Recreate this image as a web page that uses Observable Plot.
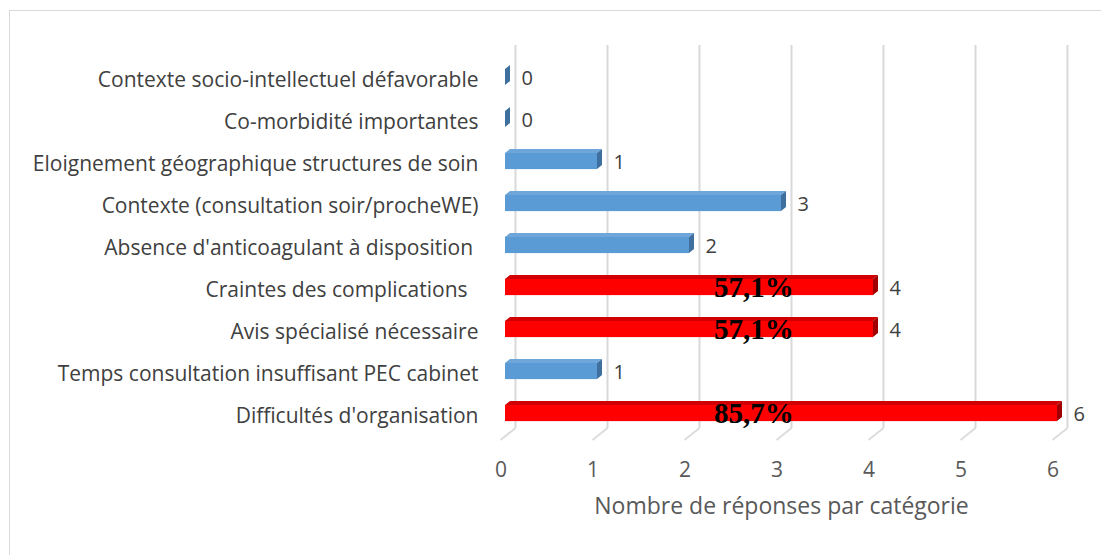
<!DOCTYPE html>
<html>
<head>
<meta charset="utf-8">
<script src="https://cdn.jsdelivr.net/npm/d3@7"></script>
<script src="https://cdn.jsdelivr.net/npm/@observablehq/plot@0.6"></script>
<style>
  html, body { margin: 0; padding: 0; background: #fff; overflow: hidden; }
  #wrap { position: relative; width: 1101px; height: 555px; }
  #border { position: absolute; left: 9px; top: 10px; width: 2000px; height: 2000px;
            border-left: 1px solid #d9d9d9; border-top: 1px solid #d9d9d9; pointer-events: none; }
</style>
</head>
<body>
<div id="wrap"><div id="border"></div></div>
<script>
// ---- data ----
const categories = [
  "Contexte socio-intellectuel défavorable",
  "Co-morbidité importantes",
  "Eloignement géographique structures de soin",
  "Contexte (consultation soir/procheWE)",
  "Absence d'anticoagulant à disposition ",
  "Craintes des complications  ",
  "Avis spécialisé nécessaire",
  "Temps consultation insuffisant PEC cabinet",
  "Difficultés d'organisation"
];
const values = [0, 0, 1, 3, 2, 4, 4, 1, 6];
const highlighted = [false, false, false, false, false, true, true, false, true];
const pctLabels = ["", "", "", "", "", "57,1%", "57,1%", "", "85,7%"];
const xTicks = [0, 1, 2, 3, 4, 5, 6];
const axisTitle = "Nombre de réponses par catégorie";
const pctX = 2.7;

const palette = {
  blue: {front: "#5B9BD5", top: "#6FA6DA", side: "#3F6F9E"},
  red:  {front: "#FF0000", top: "#D00000", side: "#A00000"}
};

const rows = categories.map((c, i) => ({
  cat: c, value: values[i], hi: highlighted[i], pct: pctLabels[i]
}));

const DX = 5, DY = 4;

function bar3d(index, scales, vals, dims, context, next) {
  const g = next(index, scales, vals, dims, context);
  const sel = d3.select(g);
  const rects = sel.selectAll("rect").nodes();
  rects.forEach((r, k) => {
    const i = index[k];
    const pal = rows[i].hi ? palette.red : palette.blue;
    const x = +r.getAttribute("x"), y = +r.getAttribute("y");
    const w = +r.getAttribute("width"), h = +r.getAttribute("height");
    sel.append("path")
      .attr("d", `M${x},${y}L${x + DX},${y - DY}L${x + w + DX},${y - DY}L${x + w},${y}Z`)
      .attr("fill", pal.top);
    sel.append("path")
      .attr("d", `M${x + w},${y}L${x + w + DX},${y - DY}L${x + w + DX},${y + h - DY}L${x + w},${y + h}Z`)
      .attr("fill", pal.side);
  });
  return g;
}

function floorLines(index, scales, vals, dims, context, next) {
  const g = next(index, scales, vals, dims, context);
  const sel = d3.select(g);
  const lines = sel.selectAll("line").nodes();
  lines.forEach(l => {
    const x = +l.getAttribute("x1");
    const yb = Math.max(+l.getAttribute("y1"), +l.getAttribute("y2"));
    sel.append("line")
      .attr("x1", x).attr("y1", yb)
      .attr("x2", x - 15).attr("y2", yb + 12)
      .attr("stroke", "#dcdcdc");
  });
  return g;
}

const chart = Plot.plot({
  width: 1101,
  height: 555,
  marginLeft: 505,
  marginRight: 44,
  marginTop: 45,
  marginBottom: 115,
  style: {fontFamily: "'Open Sans', sans-serif", background: "transparent"},
  x: {domain: [0, 6], label: null},
  y: {type: "band", domain: categories, range: [53.75, 436.25], padding: 0, label: null},
  color: {type: "identity"},
  marks: [
    Plot.ruleX(xTicks, {x: d => d, dx: 10, insetBottom: 12, stroke: "#d9d9d9", strokeWidth: 2, render: floorLines}),
    Plot.barX(rows, {
      x: "value", y: "cat",
      fill: d => d.hi ? palette.red.front : palette.blue.front,
      insetTop: 12.9, insetBottom: 12.9,
      render: bar3d
    }),
    Plot.text(rows.filter(d => d.pct), {
      x: () => pctX, y: "cat", text: "pct",
      fontFamily: "'Liberation Serif', 'Times New Roman', serif",
      fontWeight: "bold", fontSize: 29, fill: "#000", dy: 0.5
    }),
    Plot.text(rows, {
      x: "value", y: "cat", text: d => String(d.value),
      textAnchor: "start", dx: 16, dy: 1, fontSize: 20, fill: "#404040"
    }),
    Plot.axisY({
      tickSize: 0, tickPadding: 27, fontSize: 21, color: "#404040", dy: 2.5, label: null,
      tickFormat: d => d.replace(/ /g, "\u00a0")
    }),
    Plot.axisX(xTicks, {
      tickSize: 0, tickPadding: 22, dx: -4.5, fontSize: 21, color: "#595959", label: null
    }),
    Plot.text([axisTitle], {
      frameAnchor: "bottom", text: d => d, dy: 73, fontSize: 23, fill: "#595959"
    })
  ]
});

document.getElementById("wrap").prepend(chart);
chart.style.position = "absolute";
chart.style.left = "0";
chart.style.top = "0";
</script>
</body>
</html>
